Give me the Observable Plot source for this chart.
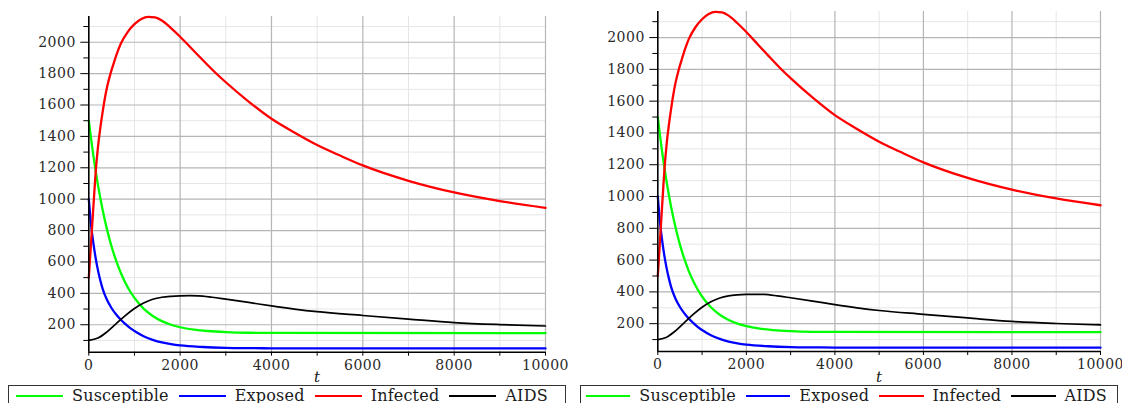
<!DOCTYPE html>
<html>
<head>
<meta charset="utf-8">
<script src="https://cdn.jsdelivr.net/npm/d3@7"></script>
<script src="https://cdn.jsdelivr.net/npm/@observablehq/plot@0.6"></script>
<style>
  html, body { margin: 0; padding: 0; background: #fff; width: 1122px; height: 403px; overflow: hidden; }
  .panel { position: absolute; top: 0; }
  .legend { position: absolute; top: 385px; height: 22px; border: 1.3px solid #333; box-sizing: border-box; background: #fff;
            display: flex; align-items: center; font-family: "DejaVu Serif", serif; font-size: 16px; letter-spacing: 0.2px; color: #1a1a1a; line-height: 18px; }
  .legend .sw { display: inline-block; width: 47px; height: 2px; margin-right: 9px; }
  .legend .lb { margin-right: 10px; white-space: nowrap; }
</style>
</head>
<body>
<div id="p1" class="panel" style="left:0px"></div>
<div id="p2" class="panel" style="left:570px"></div>
<div id="l1" class="legend" style="left:8px; width:558px; padding-left:7px"></div>
<div id="l2" class="legend" style="left:580px; width:538px; padding-left:5px"></div>
<script>
// ---- data ----
const seriesNames = ["Susceptible", "Exposed", "Infected", "AIDS"];
const seriesColors = ["#00ff00", "#0000ff", "#ff0000", "#000000"];

const tS = [0, 100, 200, 300, 400, 500, 600, 700, 800, 900, 1000, 1200, 1400, 1600, 1800, 2000, 2300, 2600, 3000, 3500, 4000, 10000];
const S  = [1500, 1277, 1091, 936, 806, 697, 607, 531, 468, 415, 371, 303, 256, 223, 200, 184, 169, 160, 153, 149, 148, 147];

const tE = [0, 50, 100, 150, 200, 250, 300, 400, 500, 600, 700, 800, 900, 1000, 1200, 1400, 1600, 1800, 2000, 2500, 3000, 3500, 4000, 10000];
const E  = [1000, 835, 720, 625, 548, 485, 432, 357, 305, 265, 232, 205, 180, 160, 127, 104, 87, 76, 68, 58, 53, 51, 50, 49];

const tI = [0, 40, 80, 120, 150, 200, 250, 300, 350, 400, 475, 550, 625, 700, 850, 1000, 1150, 1300, 1450, 1600, 1800, 2000, 2250, 2500, 2750, 3000, 3500, 4000, 4500, 5000, 5500, 6000, 7000, 8000, 9000, 10000];
const I  = [500, 680, 860, 1040, 1170, 1330, 1450, 1550, 1640, 1715, 1800, 1870, 1935, 1990, 2065, 2115, 2148, 2162, 2158, 2138, 2090, 2035, 1960, 1885, 1812, 1745, 1622, 1512, 1425, 1345, 1278, 1215, 1117, 1043, 988, 945];

const tA = [0, 200, 400, 600, 800, 1000, 1200, 1400, 1600, 1800, 2000, 2200, 2400, 2700, 3000, 3500, 4000, 4500, 5000, 6000, 7000, 8000, 9000, 10000];
const A  = [100, 115, 155, 207, 258, 303, 338, 362, 375, 381, 384, 385, 384, 375, 363, 342, 320, 300, 283, 259, 236, 214, 201, 192];

const majorX = [0, 2000, 4000, 6000, 8000, 10000];
const minorX = [1000, 3000, 5000, 7000, 9000];
const majorY = [200, 400, 600, 800, 1000, 1200, 1400, 1600, 1800, 2000];
const minorY = [100, 300, 500, 700, 900, 1100, 1300, 1500, 1700, 1900, 2100];
const xDomain = [0, 10000];
const yDomain = [25, 2164];

const ts = [tS, tE, tI, tA];
const vals = [S, E, I, A];

function panel(width, marginLeft, marginRight, marginTop, marginBottom) {
  const lines = vals.map((v, k) => Plot.line(v, {
    x: (d, i) => ts[k][i], y: d => d,
    stroke: seriesColors[k], strokeWidth: k === 3 ? 1.7 : 2.3, curve: "monotone-x"
  }));
  return Plot.plot({
    width, height: 400, marginLeft, marginRight, marginTop, marginBottom,
    style: { fontFamily: "DejaVu Serif, serif", fontSize: "14px", letterSpacing: "0.5px", color: "#2a2a2a", background: "white", overflow: "visible" },
    x: { domain: xDomain },
    y: { domain: yDomain },
    marks: [
      Plot.ruleX(minorX, { stroke: "#e6e6e6", strokeWidth: 1 }),
      Plot.ruleY(minorY, { stroke: "#e6e6e6", strokeWidth: 1 }),
      Plot.ruleX(majorX.slice(1), { stroke: "#b5b5b5", strokeWidth: 1.2 }),
      Plot.ruleY(majorY, { stroke: "#b5b5b5", strokeWidth: 1.2 }),
      ...lines,
      Plot.ruleX([xDomain[0]], { stroke: "#000", strokeWidth: 1.6 }),
      Plot.ruleY([yDomain[0]], { stroke: "#000", strokeWidth: 1.6 }),
      Plot.axisY(majorY, { tickSize: 8, tickPadding: 5, label: null, stroke: "#000", tickFormat: d => String(d) }),
      Plot.axisY(minorY, { tickSize: 5, text: null, label: null, stroke: "#000" }),
      Plot.axisX(majorX, { tickSize: 4, tickPadding: 4, label: null, stroke: "#000", tickFormat: d => String(d) }),
      Plot.axisX(minorX, { tickSize: 4, text: null, label: null, stroke: "#000" }),
      Plot.text(["t"], { frameAnchor: "bottom", lineAnchor: "bottom", dy: 30, fontStyle: "italic", fontSize: 15, fill: "#1a1a1a" })
    ]
  });
}

document.getElementById("p1").append(panel(570, 88.3, 25, 16, 48.3));
document.getElementById("p2").append(panel(552, 87.3, 22, 11, 49));

for (const id of ["l1", "l2"]) {
  const box = document.getElementById(id);
  seriesNames.forEach((name, k) => {
    const sw = document.createElement("span");
    sw.className = "sw"; sw.style.background = seriesColors[k];
    const lb = document.createElement("span");
    lb.className = "lb"; lb.textContent = name;
    box.append(sw, lb);
  });
}
</script>
</body>
</html>
